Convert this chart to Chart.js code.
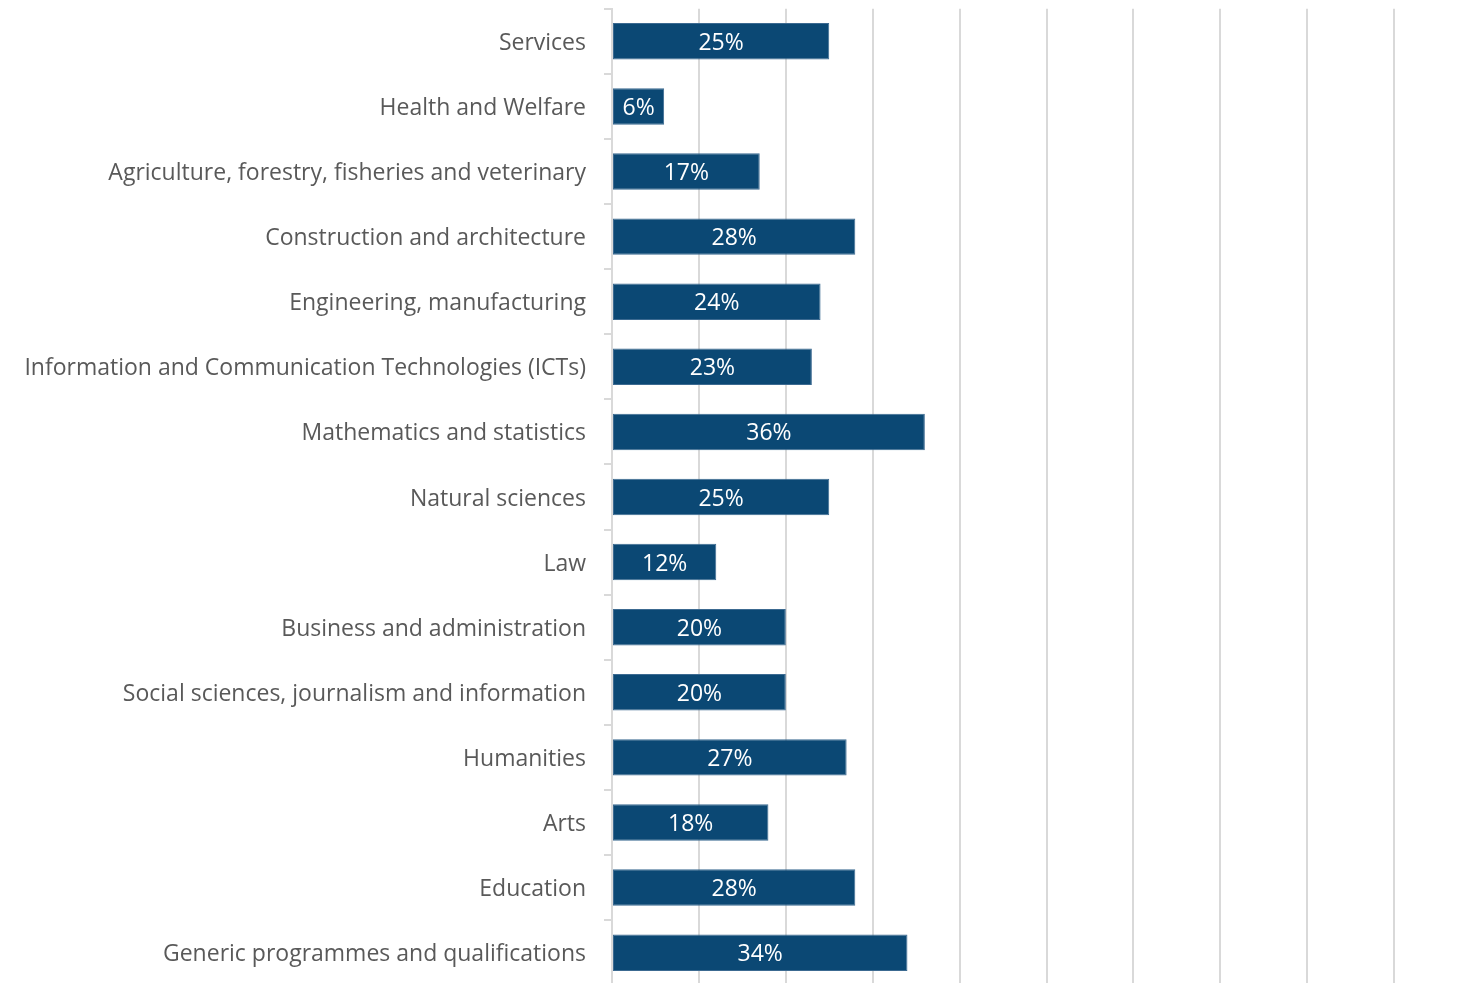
<!DOCTYPE html>
<html>
<head>
<meta charset="utf-8">
<script src="https://cdn.jsdelivr.net/npm/chart.js@4"></script>
<style>
    html, body { margin: 0; padding: 0; background: #fff; overflow: hidden; }
    #wrap { position: absolute; left: 0; top: -23px; width: 1482px; height: 1040px; }
</style>
</head>
<body>
<div id="wrap"><canvas id="fields-chart"></canvas></div>
<script>
// share by field of education (%)
const categories = [
    "Services",
    "Health and Welfare",
    "Agriculture, forestry, fisheries and veterinary",
    "Construction and architecture",
    "Engineering, manufacturing",
    "Information and Communication Technologies (ICTs)",
    "Mathematics and statistics",
    "Natural sciences",
    "Law",
    "Business and administration",
    "Social sciences, journalism and information",
    "Humanities",
    "Arts",
    "Education",
    "Generic programmes and qualifications"
];
const shares = [25, 6, 17, 28, 24, 23, 36, 25, 12, 20, 20, 27, 18, 28, 34];
const xMin = 0;
const xMax = 100;
const xStep = 10;

const FONT = "'Open Sans', Lato, sans-serif";

// white value labels in the middle of each bar
const barLabels = {
    id: "barLabels",
    afterDatasetsDraw(chart) {
        const ctx = chart.ctx;
        const meta = chart.getDatasetMeta(0);
        ctx.save();
        ctx.fillStyle = "#ffffff";
        ctx.font = "23px " + FONT;
        ctx.textAlign = "center";
        ctx.textBaseline = "middle";
        meta.data.forEach((bar, i) => {
            const cx = (bar.x + bar.base) / 2;
            ctx.fillText(shares[i] + "%", cx, bar.y + 2);
        });
        ctx.restore();
    }
};

const ctx = document.getElementById("fields-chart").getContext("2d");
new Chart(ctx, {
    type: "bar",
    data: {
        labels: categories,
        datasets: [
            {
                data: shares,
                backgroundColor: "#0b4874",
                borderColor: "#3c6a91",
                borderWidth: 1,
                borderSkipped: false,
                barPercentage: 0.56,
                categoryPercentage: 1
            }
        ]
    },
    options: {
        indexAxis: "y",
        responsive: true,
        maintainAspectRatio: false,
        animation: false,
        layout: { padding: { top: 8, right: 1, bottom: 0, left: 0 } },
        plugins: {
            legend: { display: false },
            tooltip: { enabled: false }
        },
        scales: {
            x: {
                min: xMin,
                max: xMax,
                ticks: { display: false, stepSize: xStep },
                grid: {
                    color: "#d9d9d9",
                    lineWidth: 2,
                    drawTicks: false
                },
                border: { display: false }
            },
            y: {
                afterFit(scale) { scale.width = 612; },
                ticks: {
                    color: "#595959",
                    font: { family: FONT, size: 23 },
                    padding: 18,
                    labelOffset: 2
                },
                grid: {
                    drawOnChartArea: false,
                    color: "#d9d9d9",
                    lineWidth: 2,
                    tickLength: 8,
                    offset: true
                },
                border: { color: "#d9d9d9", width: 2 }
            }
        }
    },
    plugins: [barLabels]
});
</script>
</body>
</html>
